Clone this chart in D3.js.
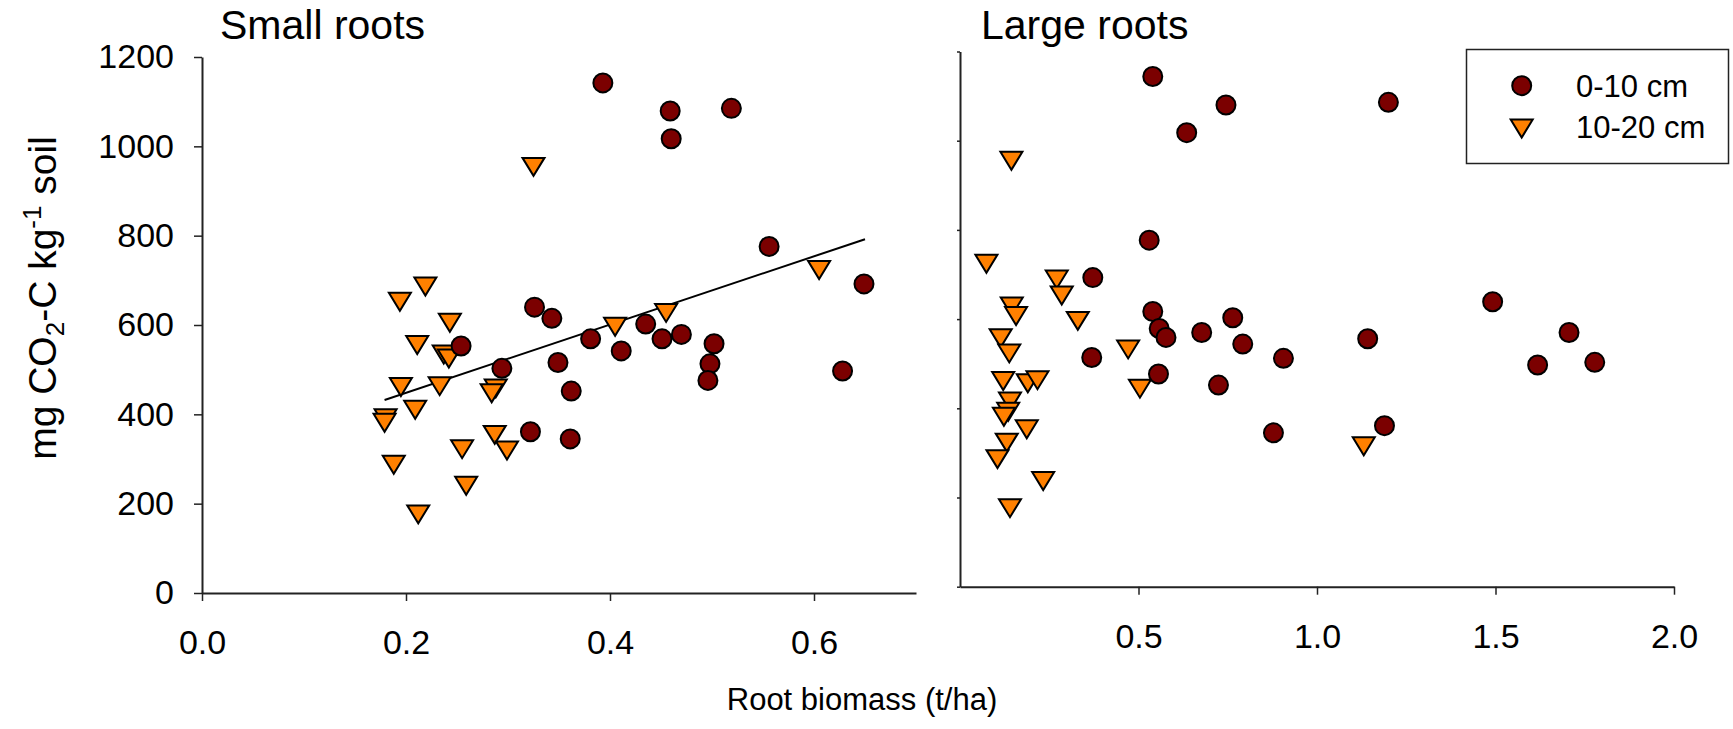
<!DOCTYPE html>
<html><head><meta charset="utf-8">
<script src="https://cdn.jsdelivr.net/npm/d3@7"></script>
<style>body{margin:0;background:#fff} svg{display:block} text{font-family:"Liberation Sans",Arial,sans-serif;fill:#000}</style>
</head><body><svg id="c" width="1733" height="729"></svg>
<script>
// ---- data: Small roots ----
const smallX0 = [0.393,0.459,0.519,0.460,0.556,0.649,0.326,0.343,0.435,0.381,0.411,0.451,0.470,0.502,0.498,0.496,0.628,0.349,0.362,0.361,0.322,0.254,0.294];
const smallY0 = [1142,1079,1085,1017,776,692,640,615,602,569,542,569,579,558,513,476,497,516,452,345,361,553,503];
const smallX1 = [0.325,0.219,0.194,0.243,0.605,0.455,0.405,0.211,0.237,0.242,0.195,0.233,0.288,0.284,0.209,0.180,0.179,0.287,0.299,0.255,0.188,0.259,0.212];
const smallY1 = [954,686,652,605,723,627,596,555,534,525,461,463,458,447,410,391,381,354,319,322,287,240,176];
// ---- data: Large roots ----
const largeX0 = [0.540,0.745,0.635,0.530,0.372,0.540,0.764,0.558,0.577,0.677,0.792,0.906,0.369,0.556,0.724,0.878,1.200,1.492,1.706,1.142,1.618,1.778,1.189];
const largeY0 = [1144,1080,1018,777,693,617,603,579,559,570,544,512,514,477,452,345,1086,639,570,556,497,503,361];
const largeX1 = [0.144,0.074,0.271,0.285,0.145,0.157,0.330,0.471,0.504,0.114,0.138,0.121,0.190,0.217,0.140,0.135,0.123,0.187,0.131,0.105,0.233,0.140,1.131];
const largeY1 = [955,724,689,653,628,607,596,532,444,557,523,461,456,463,415,392,381,353,323,286,237,176,315];
// ---- regression line (small roots) ----
const fitX = [0.179, 0.650];
const fitY = [432, 792];
// ---- ticks / labels ----
const yTicks = [0,200,400,600,800,1000,1200];
const xTicksL = [0,0.2,0.4,0.6];
const xTicksR = [0.5,1.0,1.5,2.0];
const seriesNames = ["0-10 cm","10-20 cm"];
const panelTitles = ["Small roots","Large roots"];

const svg = d3.select("#c");
const FONT = '"Liberation Sans", Arial, sans-serif';
const CIRC_FILL = "#7b0000", TRI_FILL = "#ff8000";

const xL = d3.scaleLinear([0,0.7],[202,916]);
const yL = d3.scaleLinear([0,1200],[593,57]);
const xR = d3.scaleLinear([0,2],[960,1674]);
const yR = d3.scaleLinear([0,1200],[586.7,51.5]);

function styleAxis(g, fs){
  g.attr("font-family", FONT).attr("font-size", fs);
  g.select(".domain").attr("stroke","#222").attr("stroke-width",2);
  g.selectAll(".tick line").attr("stroke","#222").attr("stroke-width",1.5);
  g.selectAll(".tick text").attr("fill","#000");
}
// Left panel axes
svg.append("g").attr("transform",`translate(0,${yL(0)})`)
  .call(d3.axisBottom(xL).tickValues(xTicksL).tickFormat(d3.format(".1f")).tickSize(8).tickSizeOuter(0).tickPadding(29))
  .call(g=>styleAxis(g,34));
svg.append("g").attr("transform",`translate(${xL(0)},0)`)
  .call(d3.axisLeft(yL).tickValues(yTicks).tickFormat(d3.format("d")).tickSize(8).tickSizeOuter(0).tickPadding(20))
  .call(g=>styleAxis(g,34));
// Right panel axes
svg.append("g").attr("transform",`translate(0,${yR(0)})`)
  .call(d3.axisBottom(xR).tickValues(xTicksR).tickFormat(d3.format(".1f")).tickSize(8).tickSizeOuter(0).tickPadding(29))
  .call(g=>styleAxis(g,34));
svg.append("g").attr("transform",`translate(${xR(0)},0)`)
  .call(d3.axisLeft(yR).tickValues(yTicks).tickFormat("").tickSize(3).tickSizeOuter(0))
  .call(g=>styleAxis(g,34));

// symbols
const triPath = "M-11,-9L11,-9L0,9Z";
function drawPanel(x, y, X0, Y0, X1, Y1){
  const g = svg.append("g");
  g.selectAll("path.tri").data(d3.zip(X1,Y1)).join("path").attr("class","tri")
    .attr("d",triPath).attr("transform",d=>`translate(${x(d[0])},${y(d[1])})`)
    .attr("fill",TRI_FILL).attr("stroke","#000").attr("stroke-width",2).attr("stroke-linejoin","miter");
  g.selectAll("circle").data(d3.zip(X0,Y0)).join("circle")
    .attr("cx",d=>x(d[0])).attr("cy",d=>y(d[1])).attr("r",9.5)
    .attr("fill",CIRC_FILL).attr("stroke","#000").attr("stroke-width",2);
}
// regression line
svg.append("path").datum(d3.zip(fitX,fitY))
  .attr("d", d3.line().x(d=>xL(d[0])).y(d=>yL(d[1])))
  .attr("stroke","#000").attr("stroke-width",2).attr("fill","none");
drawPanel(xL,yL,smallX0,smallY0,smallX1,smallY1);
drawPanel(xR,yR,largeX0,largeY0,largeX1,largeY1);

// titles
svg.append("text").attr("x",220).attr("y",39).attr("font-size",41).text(panelTitles[0]);
svg.append("text").attr("x",981).attr("y",39).attr("font-size",41).text(panelTitles[1]);

// axis labels
svg.append("text").attr("x",862).attr("y",710).attr("text-anchor","middle").attr("font-size",31).text("Root biomass (t/ha)");
const yl = svg.append("text").attr("transform","translate(56,298) rotate(-90)").attr("text-anchor","middle").attr("font-size",39);
yl.append("tspan").text("mg CO");
yl.append("tspan").attr("font-size",26).attr("dy",8).text("2");
yl.append("tspan").attr("dy",-8).text("-C kg");
yl.append("tspan").attr("font-size",26).attr("dy",-15).text("-1");
yl.append("tspan").attr("dy",15).text(" soil");

// legend
const lg = svg.append("g");
lg.append("rect").attr("x",1466.5).attr("y",49.5).attr("width",262).attr("height",114)
  .attr("fill","#fff").attr("stroke","#222").attr("stroke-width",1.5);
lg.append("circle").attr("cx",1521.7).attr("cy",85.7).attr("r",9.5).attr("fill",CIRC_FILL).attr("stroke","#000").attr("stroke-width",2);
lg.append("path").attr("d",triPath).attr("transform","translate(1521.7,128.5)").attr("fill",TRI_FILL).attr("stroke","#000").attr("stroke-width",2);
lg.append("text").attr("x",1576).attr("y",97.3).attr("font-size",31).text(seriesNames[0]);
lg.append("text").attr("x",1576).attr("y",137.7).attr("font-size",31).text(seriesNames[1]);
</script></body></html>
